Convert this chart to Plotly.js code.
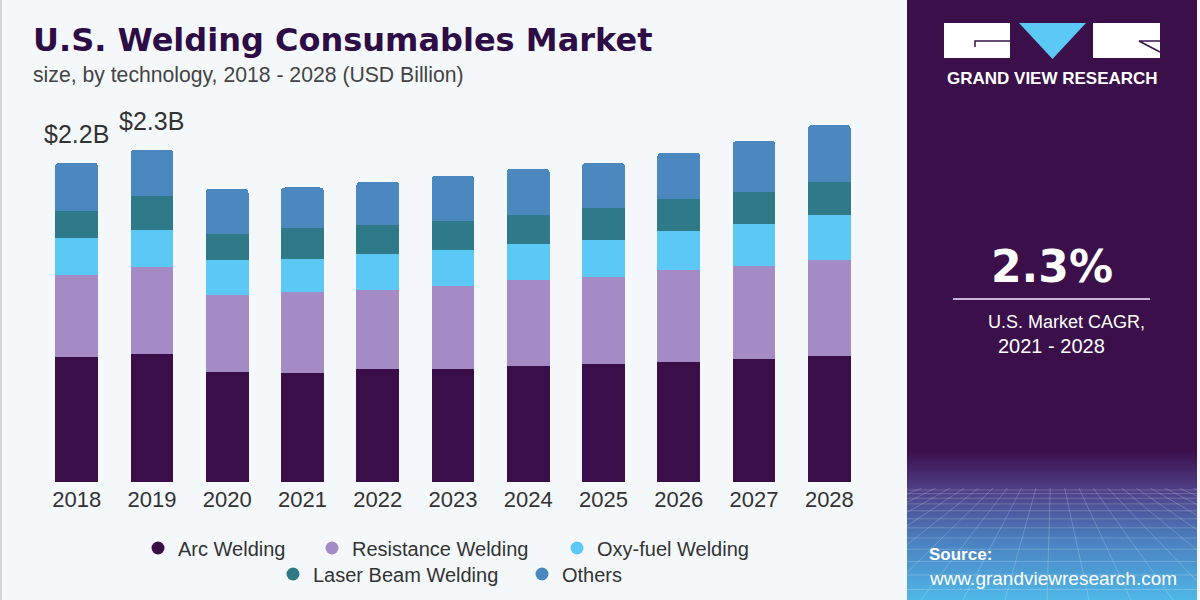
<!DOCTYPE html>
<html>
<head>
<meta charset="utf-8">
<script src="https://cdn.plot.ly/plotly-3.0.1.min.js"></script>
<style>
  html, body { margin: 0; padding: 0; background: #f5f8fb; }
  #chart { width: 1200px; height: 600px; }
</style>
</head>
<body>
<div id="chart"></div>
<script>
// ---- Data (USD Billion) ----
const years = ['2018','2019','2020','2021','2022','2023','2024','2025','2026','2027','2028'];
const arcWelding        = [0.86, 0.88, 0.76, 0.75, 0.78, 0.78, 0.80, 0.81, 0.83, 0.85, 0.87];
const resistanceWelding = [0.57, 0.60, 0.53, 0.56, 0.54, 0.57, 0.59, 0.60, 0.63, 0.64, 0.66];
const oxyFuelWelding    = [0.25, 0.26, 0.24, 0.23, 0.25, 0.25, 0.25, 0.26, 0.27, 0.29, 0.31];
const laserBeamWelding  = [0.19, 0.23, 0.18, 0.21, 0.20, 0.20, 0.20, 0.22, 0.22, 0.22, 0.23];
const others            = [0.33, 0.32, 0.31, 0.28, 0.30, 0.31, 0.32, 0.31, 0.32, 0.35, 0.39];
const seriesNames = ['Arc Welding', 'Resistance Welding', 'Oxy-fuel Welding', 'Laser Beam Welding', 'Others'];
const totalLabels = ['$2.2B', '$2.3B'];  // shown above 2018 and 2019
const cagrValue = '2.3%';
const cagrLabel1 = 'U.S. Market CAGR,';
const cagrLabel2 = '2021 - 2028';

// ---- Styling ----
const colors = ['#3a0f49', '#a48bc5', '#5bc8f5', '#2e7a88', '#4c88c0'];
const series = [arcWelding, resistanceWelding, oxyFuelWelding, laserBeamWelding, others];

// plot area in pixels
const L = 39, R = 867, T = 100, B = 482;
const PXB = 145.1; // pixels per billion
const px = X => (X - L) / (R - L);
const py = Y => (B - Y) / (B - T);

const traces = [];
series.forEach((vals, i) => {
  traces.push({
    type: 'bar', x: years, y: vals, name: seriesNames[i],
    marker: { color: colors[i], line: { width: 0 } },
    showlegend: false, hoverinfo: 'skip'
  });
});
// legend entries (circle markers), one legend each for exact placement
const legendNames = ['legend', 'legend2', 'legend3', 'legend4', 'legend5'];
series.forEach((vals, i) => {
  traces.push({
    type: 'scatter', mode: 'markers', x: [null], y: [null], name: seriesNames[i],
    marker: { color: colors[i], size: 13, symbol: 'circle' },
    showlegend: true, legend: legendNames[i], hoverinfo: 'skip'
  });
});

const totals = years.map((_, j) => series.reduce((s, arr) => s + arr[j], 0));

const annotations = [];
totalLabels.forEach((t, j) => {
  annotations.push({
    x: j, y: totals[j], xref: 'x', yref: 'y', text: t, showarrow: false,
    xanchor: 'center', yanchor: 'bottom', yshift: 13,
    font: { family: 'Liberation Sans, Arial, sans-serif', size: 25, color: '#333333' }
  });
});
// titles
annotations.push({
  x: px(31), y: py(40), xref: 'paper', yref: 'paper', xanchor: 'left', yanchor: 'middle',
  text: 'U.S. Welding Consumables Market', showarrow: false,
  font: { family: 'DejaVu Sans, sans-serif', size: 32, weight: 700, color: '#2e0c45' }
});
annotations.push({
  x: px(31), y: py(75), xref: 'paper', yref: 'paper', xanchor: 'left', yanchor: 'middle',
  text: 'size, by technology, 2018 - 2028 (USD Billion)', showarrow: false,
  font: { family: 'Liberation Sans, Arial, sans-serif', size: 21.2, color: '#444444' }
});
// right panel texts
annotations.push({
  x: px(1052), y: py(79), xref: 'paper', yref: 'paper', xanchor: 'center', yanchor: 'middle',
  text: 'GRAND VIEW RESEARCH', showarrow: false,
  font: { family: 'Liberation Sans, Arial, sans-serif', size: 17, weight: 700, color: '#ffffff' }
});
annotations.push({
  x: px(1052), y: py(266), xref: 'paper', yref: 'paper', xanchor: 'center', yanchor: 'middle',
  text: cagrValue, showarrow: false,
  font: { family: 'DejaVu Sans, sans-serif', size: 44, weight: 700, color: '#ffffff' }
});
annotations.push({
  x: px(1066), y: py(322), xref: 'paper', yref: 'paper', xanchor: 'center', yanchor: 'middle',
  text: cagrLabel1, showarrow: false,
  font: { family: 'Liberation Sans, Arial, sans-serif', size: 18, color: '#ffffff' }
});
annotations.push({
  x: px(1051), y: py(346), xref: 'paper', yref: 'paper', xanchor: 'center', yanchor: 'middle',
  text: cagrLabel2, showarrow: false,
  font: { family: 'Liberation Sans, Arial, sans-serif', size: 20, color: '#ffffff' }
});
annotations.push({
  x: px(927), y: py(554), xref: 'paper', yref: 'paper', xanchor: 'left', yanchor: 'middle',
  text: 'Source:', showarrow: false,
  font: { family: 'Liberation Sans, Arial, sans-serif', size: 17, weight: 700, color: '#ffffff' }
});
annotations.push({
  x: px(927), y: py(578), xref: 'paper', yref: 'paper', xanchor: 'left', yanchor: 'middle',
  text: 'www.grandviewresearch.com', showarrow: false,
  font: { family: 'Liberation Sans, Arial, sans-serif', size: 19, color: '#ffffff' }
});

// ---- Right panel background as an inline SVG image ----
function panelSVG() {
  const W = 290, H = 600;
  let lines = '';
  for (let k = 0; k < 40; k++) {
    const y = 490 + 3 * k + 0.55 * k * k;
    if (y > H) break;
    lines += `<line x1="0" y1="${y.toFixed(1)}" x2="${W}" y2="${y.toFixed(1)}"/>`;
  }
  for (let k = 0; k <= 40; k++) {
    const xb = -700 + k * 42;
    lines += `<line x1="145" y1="430" x2="${xb}" y2="${H}"/>`;
  }
  return `<svg xmlns="http://www.w3.org/2000/svg" width="${W}" height="${H}" viewBox="0 0 ${W} ${H}" preserveAspectRatio="none">
  <defs>
    <linearGradient id="g" x1="0" y1="0" x2="0" y2="1">
      <stop offset="0" stop-color="#3a0f4a"/>
      <stop offset="0.75" stop-color="#3a0f4a"/>
      <stop offset="0.815" stop-color="#4f3e86"/>
      <stop offset="0.9" stop-color="#4a7fc0"/>
      <stop offset="1" stop-color="#4fb8e8"/>
    </linearGradient>
    <clipPath id="c"><rect x="0" y="488" width="${W}" height="${H - 488}"/></clipPath>
  </defs>
  <rect width="${W}" height="${H}" fill="url(#g)"/>
  <g clip-path="url(#c)" stroke="rgba(255,255,255,0.2)" stroke-width="1" fill="none">${lines}</g>
</svg>`;
}
const panelSrc = 'data:image/svg+xml;charset=utf-8,' + encodeURIComponent(panelSVG());

const shapes = [
  // thin left border
  { type: 'line', xref: 'paper', yref: 'paper', x0: px(1), x1: px(1), y0: py(0), y1: py(600),
    line: { color: '#d4d6da', width: 2 } },
  // logo: left box
  { type: 'rect', xref: 'paper', yref: 'paper', x0: px(944), x1: px(1010), y0: py(23), y1: py(58),
    fillcolor: '#ffffff', line: { width: 0 } },
  { type: 'path', xref: 'paper', yref: 'paper',
    path: `M ${px(975)} ${py(47)} L ${px(975)} ${py(41)} L ${px(1010)} ${py(41)}`,
    line: { color: '#3a0f4a', width: 1.5 } },
  // logo: triangle
  { type: 'path', xref: 'paper', yref: 'paper',
    path: `M ${px(1019)} ${py(23)} L ${px(1086)} ${py(23)} L ${px(1052.5)} ${py(59)} Z`,
    fillcolor: '#5bc8f5', line: { width: 0 } },
  // logo: right box
  { type: 'rect', xref: 'paper', yref: 'paper', x0: px(1093), x1: px(1160), y0: py(23), y1: py(58),
    fillcolor: '#ffffff', line: { width: 0 } },
  { type: 'path', xref: 'paper', yref: 'paper',
    path: `M ${px(1160)} ${py(41)} L ${px(1139)} ${py(41)} L ${px(1160)} ${py(52)}`,
    line: { color: '#3a0f4a', width: 1.5 } },
  // CAGR separator line
  { type: 'line', xref: 'paper', yref: 'paper', x0: px(953), x1: px(1150), y0: py(299), y1: py(299),
    line: { color: '#c8b3dc', width: 2 } }
];

// legends, one per entry
const legendPos = [[158, 548], [332, 548], [577, 548], [293, 574], [542, 574]];
const legendFont = { family: 'Liberation Sans, Arial, sans-serif', size: 20, color: '#333333' };
const layout = {
  width: 1200, height: 600,
  margin: { l: L, r: 1200 - R, t: T, b: 600 - B, pad: 0, autoexpand: false },
  paper_bgcolor: '#f5f8fb', plot_bgcolor: '#f5f8fb',
  barmode: 'stack', bargap: 0.433, barcornerradius: 4,
  xaxis: {
    type: 'category', range: [-0.5, 10.5], showgrid: false, zeroline: false, showline: false,
    ticks: '', ticklabelstandoff: 2, automargin: false,
    tickfont: { family: 'Liberation Sans, Arial, sans-serif', size: 22, color: '#333333' },
    fixedrange: true
  },
  yaxis: {
    range: [0, (B - T) / PXB], visible: false, showgrid: false, zeroline: false, fixedrange: true,
    automargin: false
  },
  annotations: annotations,
  shapes: shapes,
  images: [{
    source: panelSrc, xref: 'paper', yref: 'paper',
    x: px(907), y: py(0), sizex: px(1197) - px(907), sizey: py(0) - py(600),
    xanchor: 'left', yanchor: 'top', sizing: 'stretch', layer: 'below'
  }],
  hovermode: false
};
legendNames.forEach((ln, i) => {
  layout[ln] = {
    x: px(legendPos[i][0] - 20), y: py(legendPos[i][1]), xref: 'paper', yref: 'paper',
    xanchor: 'left', yanchor: 'middle', orientation: 'h', bgcolor: 'rgba(0,0,0,0)',
    borderwidth: 0, itemsizing: 'trace', font: legendFont, itemclick: false, itemdoubleclick: false
  };
});

Plotly.newPlot('chart', traces, layout, { displayModeBar: false, staticPlot: true });
</script>
</body>
</html>
